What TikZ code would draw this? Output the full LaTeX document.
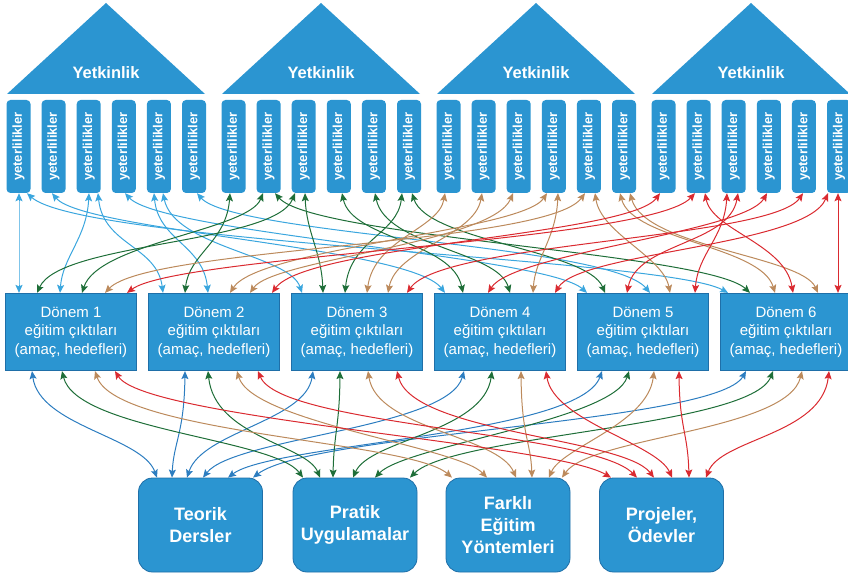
\documentclass[tikz,border=0pt]{standalone}
\usepackage{fontspec}
\setmainfont{Liberation Sans}
\usepackage{graphicx}
\usetikzlibrary{arrows.meta}
\definecolor{boxblue}{HTML}{2B95D1}
\definecolor{boxedge}{HTML}{1F6FA8}
\definecolor{aB}{HTML}{3AA6DE}
\definecolor{aG}{HTML}{1E6E38}
\definecolor{aT}{HTML}{BC8A5C}
\definecolor{aR}{HTML}{DA2A30}
\definecolor{aD}{HTML}{2C7DC0}
\begin{document}
\begin{tikzpicture}[x=1pt,y=-1pt,
  roof/.style={fill=boxblue},
  rooftext/.style={text=white,font=\bfseries\fontsize{16.5}{18}\selectfont},
  pillar/.style={fill=boxblue,rounded corners=4pt,minimum width=24pt,minimum height=93pt,inner sep=0pt,text=white,font=\bfseries\fontsize{13}{14}\selectfont},
  donem/.style={fill=boxblue,draw=boxedge,line width=1.2pt,minimum width=131pt,minimum height=77pt,inner sep=0pt,align=center,text=white,font=\fontsize{15}{18.5}\selectfont},
  method/.style={fill=boxblue,draw=boxedge,line width=0.8pt,rounded corners=14pt,minimum width=124pt,minimum height=94pt,inner sep=0pt,align=center,text=white,font=\bfseries\fontsize{18}{22}\selectfont},
  link/.style={line width=1pt,{Stealth[length=8pt,width=7pt,inset=1.5pt]}-{Stealth[length=8pt,width=7pt,inset=1.5pt]}}]
\useasboundingbox (0,0) rectangle (848,577);
% roofs
\foreach \g [count=\k] in {0,1,2,3}{
  \pgfmathsetmacro\bx{7+215*\g}
  \fill[roof] (\bx,94) -- (\bx+99,3) -- (\bx+198,94) -- cycle;
  \node[rooftext] (t\k) at (\bx+99,73) {Yetkinlik};
}
% pillars
\foreach \g in {0,1,2,3}{
  \foreach \i in {0,...,5}{
    \pgfmathsetmacro\cx{18.5+215*\g+35.1*\i}
    \pgfmathtruncatemacro\n{6*\g+\i+1}
    \node[pillar] (p\n) at (\cx,146.5) {\rotatebox{90}{yeterlilikler}};
  }
}
% terms
\foreach \k in {1,...,6}{
  \node[donem] (d\k) at ({71+143*(\k-1)},332) {Dönem \k\\eğitim çıktıları\\(amaç, hedefleri)};
}
% methods
\node[method] (b1) at (200.5,525) {Teorik\\Dersler};
\node[method] (b2) at (355,525) {Pratik\\Uygulamalar};
\node[method] (b3) at (508,525) {Farklı\\Eğitim\\Yöntemleri};
\node[method] (b4) at (661.5,525) {Projeler,\\Ödevler};
% links pillars - terms
\foreach \pp/\xa/\dd/\xb/\col [count=\n] in {
  1/19/1/19/aB, 1/27/6/728/aB, 2/52/4/445/aB, 3/89/1/60/aB, 3/98/2/163/aB,
  4/125/5/587/aB, 5/154/2/208/aB, 5/163/3/302/aB, 6/197/5/650/aB,
  7/230/2/185/aG, 8/263/1/82/aG, 8/275/6/750/aG, 9/295/1/37/aG, 9/305/3/323/aG,
  10/342/4/463/aG, 11/375/4/510/aG, 12/402/3/345/aG, 12/412/5/605/aG,
  13/445/3/367/aT, 14/482/3/388/aT, 15/513/2/250/aT, 16/547/2/230/aT, 16/558/4/533/aT,
  17/585/1/105/aT, 17/595/5/670/aT, 18/620/6/775/aT, 18/630/6/818/aT,
  19/660/2/272/aR, 20/695/1/127/aR, 20/705/6/793/aR, 21/727/5/695/aR, 21/738/5/627/aR,
  22/767/4/488/aR, 23/803/3/407/aR, 24/828/4/555/aR, 24/838/6/838/aR}{
  \pgfmathsetmacro\dx{\xb-\xa}
  \pgfmathsetmacro\va{36+mod(\n*7,19)}
  \pgfmathsetmacro\vb{34+mod(\n*11,21)}
  \draw[link,\col] (p\pp.south -| \xa,0) .. controls +(0.08*\dx,\va) and +(-0.09*\dx,-\vb) .. (d\dd.north -| \xb,0);
}
% links terms - methods
\foreach \dd/\xa/\bb/\xb/\col [count=\n] in {
  1/32/1/157/aD, 2/185/1/172/aD, 3/313/1/187/aD, 4/464/1/203/aD, 5/602/1/228/aD, 6/746/1/253/aD,
  1/62/2/303/aG, 2/208/2/320/aG, 3/340/2/333/aG, 4/492/2/353/aG, 5/629/2/375/aG, 6/773/2/410/aG,
  1/95/3/452/aT, 2/237/3/487/aT, 3/368/3/516/aT, 4/521/3/532/aT, 5/654/3/549/aT, 6/802/3/562/aT,
  1/115/4/611/aR, 2/258/4/637/aR, 3/397/4/654/aR, 4/546/4/672/aR, 5/679/4/689/aR, 6/829/4/706/aR}{
  \pgfmathsetmacro\dx{\xb-\xa}
  \pgfmathsetmacro\va{48+mod(\n*7,19)}
  \pgfmathsetmacro\vb{30+mod(\n*11,17)}
  \draw[link,\col] (d\dd.south -| \xa,0) .. controls +(0.06*\dx,\va) and +(-0.12*\dx,-\vb) .. (b\bb.north -| \xb,0);
}
\end{tikzpicture}
\end{document}
